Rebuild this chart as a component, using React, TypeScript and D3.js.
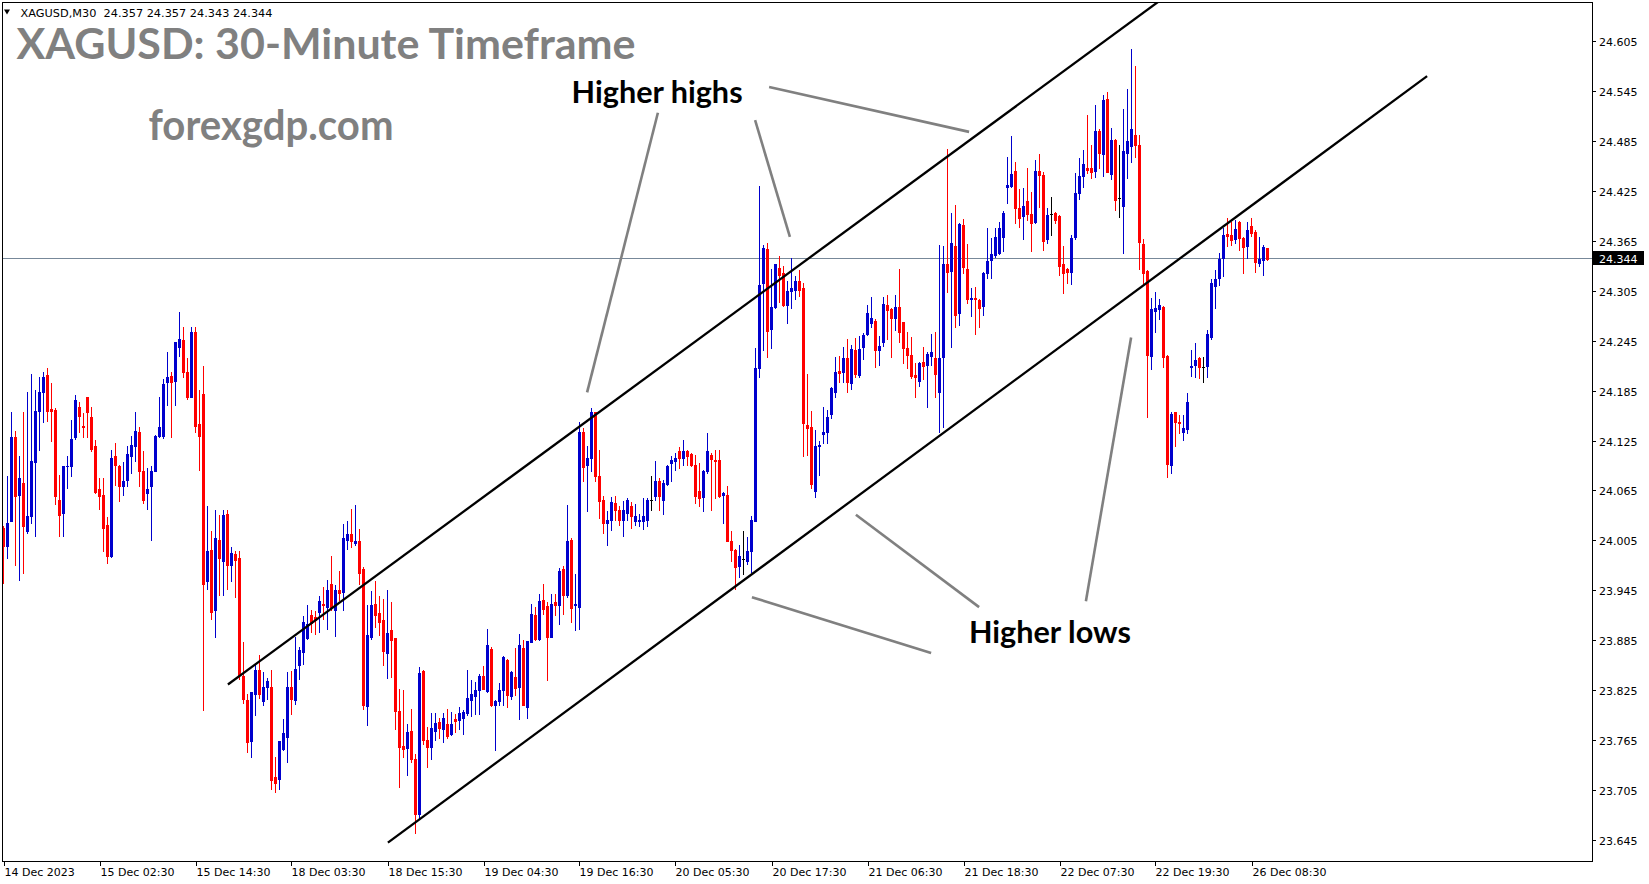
import React, { useEffect, useRef } from 'react';
import * as d3 from 'd3';

// XAGUSD M30 candles (bar 0 = 14 Dec 2023)
const opens = [
  24.021, 24.000, 24.030, 24.131, 24.061, 24.075, 24.018, 24.035, 24.100, 24.162,
  24.184, 24.205, 24.164, 24.163, 24.055, 24.039, 24.095, 24.095, 24.130, 24.166,
  24.144, 24.178, 24.155, 24.120, 24.068, 24.061, 24.025, 23.987, 24.108, 24.095,
  24.071, 24.079, 24.108, 24.119, 24.137, 24.089, 24.063, 24.071, 24.089, 24.132,
  24.132, 24.196, 24.204, 24.198, 24.239, 24.247, 24.209, 24.179, 24.257, 24.146,
  24.182, 23.957, 23.995, 23.922, 24.007, 23.981, 24.038, 23.977, 23.990, 23.985,
  23.843, 23.815, 23.765, 23.822, 23.851, 23.813, 23.830, 23.830, 23.722, 23.720,
  23.756, 23.770, 23.830, 23.815, 23.856, 23.872, 23.889, 23.916, 23.914, 23.920,
  23.930, 23.926, 23.954, 23.922, 23.946, 23.944, 24.007, 24.014, 24.003, 24.005,
  23.972, 23.807, 23.890, 23.930, 23.919, 23.910, 23.871, 23.898, 23.889, 23.801,
  23.759, 23.757, 23.777, 23.743, 23.677, 23.849, 23.766, 23.758, 23.777, 23.788,
  23.780, 23.785, 23.773, 23.791, 23.790, 23.793, 23.799, 23.815, 23.819, 23.827,
  23.843, 23.825, 23.876, 23.808, 23.813, 23.826, 23.863, 23.819, 23.842, 23.830,
  23.877, 23.806, 23.884, 23.916, 23.888, 23.934, 23.927, 23.890, 23.932, 23.928,
  23.972, 23.940, 24.007, 23.928, 23.926, 24.137, 24.097, 24.105, 24.161, 24.083,
  24.055, 24.027, 24.031, 24.051, 24.043, 24.031, 24.039, 24.047, 24.030, 24.029,
  24.030, 24.031, 24.055, 24.059, 24.077, 24.055, 24.074, 24.099, 24.101, 24.113,
  24.105, 24.113, 24.110, 24.097, 24.065, 24.058, 24.089, 24.109, 24.103, 24.103,
  24.061, 24.061, 24.005, 23.995, 23.975, 23.984, 23.982, 23.994, 24.029, 24.213,
  24.316, 24.356, 24.260, 24.287, 24.334, 24.327, 24.289, 24.306, 24.307, 24.318,
  24.309, 24.145, 24.143, 24.065, 24.119, 24.134, 24.137, 24.158, 24.184, 24.210,
  24.209, 24.225, 24.195, 24.235, 24.205, 24.239, 24.254, 24.267, 24.270, 24.235,
  24.245, 24.289, 24.284, 24.273, 24.287, 24.268, 24.237, 24.229, 24.205, 24.198,
  24.220, 24.217, 24.228, 24.225, 24.184, 24.227, 24.338, 24.330, 24.360, 24.279,
  24.385, 24.332, 24.296, 24.297, 24.295, 24.288, 24.327, 24.343, 24.349, 24.351,
  24.371, 24.431, 24.432, 24.450, 24.406, 24.396, 24.414, 24.398, 24.389, 24.450,
  24.445, 24.368, 24.398, 24.399, 24.396, 24.338, 24.332, 24.329, 24.371, 24.423,
  24.444, 24.454, 24.454, 24.450, 24.498, 24.470, 24.536, 24.447, 24.487, 24.417,
  24.408, 24.472, 24.480, 24.493, 24.481, 24.362, 24.330, 24.228, 24.282, 24.284,
  24.287, 24.228, 24.097, 24.160, 24.149, 24.137, 24.140, 24.214, 24.217, 24.225,
  24.214, 24.216, 24.251, 24.312, 24.322, 24.345, 24.374, 24.373, 24.368, 24.389,
  24.369, 24.360, 24.384, 24.377, 24.340, 24.343, 24.357,
];

const highs = [
  24.023, 24.083, 24.161, 24.138, 24.108, 24.161, 24.185, 24.206, 24.187, 24.203,
  24.209, 24.213, 24.195, 24.165, 24.085, 24.096, 24.107, 24.151, 24.181, 24.173,
  24.159, 24.178, 24.166, 24.127, 24.081, 24.081, 24.034, 24.115, 24.123, 24.097,
  24.100, 24.120, 24.132, 24.161, 24.143, 24.114, 24.093, 24.095, 24.133, 24.179,
  24.200, 24.233, 24.209, 24.244, 24.280, 24.262, 24.225, 24.263, 24.263, 24.187,
  24.216, 24.047, 24.018, 24.043, 24.037, 24.043, 24.043, 23.998, 23.993, 23.994,
  23.884, 23.822, 23.824, 23.856, 23.868, 23.848, 23.841, 23.850, 23.746, 23.765,
  23.791, 23.848, 23.849, 23.890, 23.878, 23.915, 23.928, 23.922, 23.921, 23.939,
  23.950, 23.958, 23.987, 23.952, 23.969, 24.026, 24.030, 24.044, 24.049, 24.020,
  23.974, 23.928, 23.945, 23.957, 23.939, 23.936, 23.947, 23.932, 23.889, 23.828,
  23.827, 23.785, 23.803, 23.749, 23.854, 23.850, 23.782, 23.799, 23.799, 23.793,
  23.799, 23.804, 23.800, 23.798, 23.806, 23.802, 23.851, 23.839, 23.836, 23.846,
  23.855, 23.900, 23.878, 23.815, 23.835, 23.867, 23.864, 23.849, 23.877, 23.894,
  23.886, 23.885, 23.930, 23.926, 23.942, 23.954, 23.932, 23.942, 23.942, 23.973,
  23.975, 24.049, 24.009, 23.966, 24.149, 24.141, 24.119, 24.165, 24.161, 24.115,
  24.059, 24.041, 24.058, 24.059, 24.048, 24.053, 24.057, 24.052, 24.050, 24.038,
  24.057, 24.057, 24.083, 24.102, 24.081, 24.079, 24.097, 24.108, 24.111, 24.118,
  24.127, 24.115, 24.111, 24.109, 24.099, 24.091, 24.135, 24.111, 24.115, 24.115,
  24.064, 24.071, 24.018, 23.996, 24.001, 24.018, 24.010, 24.035, 24.237, 24.432,
  24.361, 24.364, 24.332, 24.338, 24.348, 24.336, 24.318, 24.345, 24.324, 24.331,
  24.316, 24.206, 24.162, 24.139, 24.126, 24.166, 24.163, 24.191, 24.227, 24.228,
  24.238, 24.248, 24.241, 24.249, 24.252, 24.255, 24.289, 24.299, 24.272, 24.252,
  24.299, 24.301, 24.285, 24.301, 24.332, 24.269, 24.256, 24.250, 24.219, 24.221,
  24.238, 24.232, 24.254, 24.257, 24.361, 24.360, 24.476, 24.400, 24.409, 24.388,
  24.392, 24.362, 24.310, 24.311, 24.296, 24.329, 24.382, 24.370, 24.381, 24.389,
  24.402, 24.467, 24.492, 24.461, 24.428, 24.430, 24.454, 24.425, 24.463, 24.470,
  24.449, 24.405, 24.419, 24.401, 24.397, 24.360, 24.333, 24.373, 24.448, 24.466,
  24.475, 24.517, 24.481, 24.529, 24.500, 24.541, 24.545, 24.502, 24.488, 24.481,
  24.525, 24.548, 24.596, 24.576, 24.493, 24.368, 24.331, 24.297, 24.305, 24.296,
  24.288, 24.229, 24.160, 24.161, 24.157, 24.157, 24.183, 24.235, 24.243, 24.227,
  24.227, 24.259, 24.320, 24.331, 24.351, 24.381, 24.394, 24.389, 24.391, 24.390,
  24.371, 24.389, 24.394, 24.379, 24.371, 24.361, 24.357,
];

const lows = [
  23.955, 23.985, 24.029, 23.977, 23.959, 23.967, 24.015, 24.027, 24.011, 24.115,
  24.148, 24.150, 24.126, 24.050, 24.011, 24.011, 24.069, 24.083, 24.128, 24.137,
  24.131, 24.131, 24.113, 24.063, 24.044, 23.994, 23.979, 23.986, 24.073, 24.054,
  24.061, 24.071, 24.087, 24.102, 24.071, 24.051, 24.044, 24.007, 24.089, 24.131,
  24.129, 24.169, 24.131, 24.169, 24.228, 24.202, 24.176, 24.179, 24.136, 24.091,
  23.802, 23.948, 23.912, 23.890, 23.940, 23.940, 23.948, 23.957, 23.938, 23.840,
  23.811, 23.752, 23.746, 23.796, 23.817, 23.809, 23.816, 23.708, 23.704, 23.708,
  23.754, 23.740, 23.797, 23.810, 23.840, 23.858, 23.888, 23.896, 23.894, 23.896,
  23.912, 23.900, 23.922, 23.891, 23.934, 23.922, 23.996, 23.998, 24.001, 23.954,
  23.804, 23.784, 23.888, 23.902, 23.892, 23.856, 23.841, 23.842, 23.779, 23.710,
  23.746, 23.724, 23.740, 23.655, 23.671, 23.762, 23.734, 23.743, 23.766, 23.769,
  23.764, 23.769, 23.772, 23.776, 23.780, 23.774, 23.796, 23.795, 23.798, 23.798,
  23.828, 23.824, 23.807, 23.754, 23.808, 23.808, 23.806, 23.816, 23.820, 23.792,
  23.808, 23.793, 23.884, 23.886, 23.886, 23.918, 23.839, 23.890, 23.916, 23.906,
  23.918, 23.938, 23.908, 23.899, 23.900, 24.077, 24.042, 24.090, 24.077, 24.033,
  24.015, 24.001, 24.019, 24.031, 24.025, 24.012, 24.031, 24.021, 24.025, 24.023,
  24.020, 24.023, 24.043, 24.055, 24.043, 24.038, 24.073, 24.078, 24.091, 24.093,
  24.097, 24.097, 24.095, 24.051, 24.048, 24.042, 24.087, 24.043, 24.057, 24.058,
  24.027, 24.005, 23.982, 23.948, 23.962, 23.966, 23.978, 23.968, 24.029, 24.202,
  24.235, 24.226, 24.237, 24.285, 24.293, 24.288, 24.267, 24.285, 24.296, 24.300,
  24.107, 24.109, 24.069, 24.058, 24.085, 24.123, 24.123, 24.153, 24.178, 24.197,
  24.196, 24.184, 24.188, 24.203, 24.203, 24.224, 24.253, 24.263, 24.215, 24.217,
  24.240, 24.248, 24.226, 24.259, 24.244, 24.219, 24.213, 24.201, 24.178, 24.192,
  24.200, 24.166, 24.217, 24.178, 24.137, 24.143, 24.305, 24.239, 24.262, 24.265,
  24.327, 24.292, 24.276, 24.254, 24.262, 24.277, 24.321, 24.322, 24.347, 24.350,
  24.354, 24.412, 24.431, 24.387, 24.383, 24.368, 24.391, 24.354, 24.388, 24.407,
  24.355, 24.364, 24.373, 24.388, 24.325, 24.304, 24.315, 24.314, 24.368, 24.416,
  24.431, 24.448, 24.441, 24.443, 24.454, 24.444, 24.449, 24.440, 24.403, 24.395,
  24.351, 24.442, 24.461, 24.467, 24.332, 24.315, 24.155, 24.212, 24.257, 24.272,
  24.215, 24.082, 24.087, 24.119, 24.135, 24.127, 24.135, 24.204, 24.202, 24.201,
  24.197, 24.202, 24.248, 24.285, 24.313, 24.324, 24.360, 24.361, 24.364, 24.355,
  24.328, 24.345, 24.372, 24.329, 24.336, 24.325, 24.343,
];

const closes = [
  24.000, 24.027, 24.130, 24.059, 24.081, 24.023, 24.035, 24.101, 24.162, 24.184,
  24.203, 24.162, 24.162, 24.059, 24.037, 24.095, 24.096, 24.128, 24.175, 24.156,
  24.142, 24.160, 24.116, 24.064, 24.059, 24.021, 23.987, 24.105, 24.097, 24.071,
  24.077, 24.110, 24.121, 24.138, 24.089, 24.055, 24.068, 24.089, 24.132, 24.142,
  24.194, 24.202, 24.197, 24.244, 24.248, 24.208, 24.178, 24.256, 24.144, 24.132,
  23.954, 23.994, 23.920, 24.009, 23.985, 24.037, 23.977, 23.991, 23.983, 23.845,
  23.816, 23.764, 23.824, 23.850, 23.822, 23.830, 23.837, 23.718, 23.715, 23.765,
  23.775, 23.830, 23.816, 23.852, 23.874, 23.908, 23.906, 23.907, 23.910, 23.933,
  23.928, 23.947, 23.926, 23.946, 23.943, 24.009, 24.014, 24.006, 24.006, 23.967,
  23.808, 23.892, 23.928, 23.916, 23.908, 23.873, 23.895, 23.887, 23.801, 23.758,
  23.755, 23.776, 23.743, 23.678, 23.847, 23.766, 23.758, 23.781, 23.787, 23.781,
  23.793, 23.771, 23.786, 23.789, 23.799, 23.800, 23.817, 23.822, 23.827, 23.843,
  23.828, 23.880, 23.809, 23.813, 23.826, 23.866, 23.820, 23.848, 23.829, 23.881,
  23.808, 23.885, 23.918, 23.888, 23.933, 23.924, 23.890, 23.930, 23.928, 23.970,
  23.940, 24.005, 23.925, 23.930, 24.136, 24.094, 24.105, 24.161, 24.083, 24.053,
  24.027, 24.031, 24.052, 24.043, 24.031, 24.043, 24.055, 24.035, 24.036, 24.031,
  24.035, 24.055, 24.055, 24.078, 24.059, 24.075, 24.095, 24.103, 24.105, 24.105,
  24.113, 24.107, 24.097, 24.059, 24.057, 24.089, 24.113, 24.104, 24.101, 24.059,
  24.063, 24.006, 23.995, 23.974, 23.988, 23.984, 23.994, 24.031, 24.213, 24.313,
  24.357, 24.258, 24.287, 24.338, 24.325, 24.289, 24.306, 24.309, 24.318, 24.307,
  24.147, 24.141, 24.074, 24.120, 24.121, 24.137, 24.155, 24.189, 24.209, 24.207,
  24.225, 24.196, 24.236, 24.206, 24.236, 24.253, 24.279, 24.273, 24.235, 24.240,
  24.290, 24.283, 24.273, 24.287, 24.256, 24.237, 24.229, 24.204, 24.202, 24.219,
  24.216, 24.230, 24.232, 24.206, 24.225, 24.338, 24.329, 24.363, 24.277, 24.386,
  24.335, 24.296, 24.297, 24.296, 24.286, 24.327, 24.342, 24.350, 24.371, 24.382,
  24.400, 24.433, 24.446, 24.405, 24.394, 24.408, 24.398, 24.387, 24.450, 24.445,
  24.366, 24.397, 24.398, 24.391, 24.336, 24.327, 24.329, 24.369, 24.423, 24.444,
  24.458, 24.451, 24.449, 24.498, 24.472, 24.535, 24.449, 24.487, 24.415, 24.417,
  24.474, 24.486, 24.500, 24.481, 24.365, 24.327, 24.229, 24.284, 24.285, 24.289,
  24.227, 24.098, 24.158, 24.149, 24.147, 24.141, 24.172, 24.216, 24.223, 24.214,
  24.214, 24.254, 24.316, 24.320, 24.344, 24.373, 24.372, 24.367, 24.380, 24.369,
  24.359, 24.379, 24.376, 24.341, 24.344, 24.359, 24.344,
];

// one label every 24 bars
const timeLabels = [
  '14 Dec 2023', '15 Dec 02:30', '15 Dec 14:30', '18 Dec 03:30', '18 Dec 15:30',
  '19 Dec 04:30', '19 Dec 16:30', '20 Dec 05:30', '20 Dec 17:30', '21 Dec 06:30',
  '21 Dec 18:30', '22 Dec 07:30', '22 Dec 19:30', '26 Dec 08:30',
];

const priceTicks = [
  24.605, 24.545, 24.485, 24.425, 24.365, 24.305, 24.245, 24.185, 24.125,
  24.065, 24.005, 23.945, 23.885, 23.825, 23.765, 23.705, 23.645,
];

const lastPrice = 24.344;

// channel lines [bar, price]
const upperChannel = [[56.1, 23.833], [288.6, 24.653]];
const lowerChannel = [[96.1, 23.643], [355.9, 24.564]];

// grey pointer lines [bar, price, bar, price]
const pointers = [
  [163.6, 24.520, 145.9, 24.184],
  [187.9, 24.511, 196.6, 24.371],
  [191.4, 24.551, 241.4, 24.497],
  [213.1, 24.037, 243.9, 23.926],
  [187.1, 23.938, 231.9, 23.871],
  [281.9, 24.250, 270.6, 23.933],
];

const W = 1649;
const H = 884;
const BULL = '#0000CD';
const BEAR = '#FF0000';

const App: React.FC = () => {
  const ref = useRef<SVGSVGElement | null>(null);

  useEffect(() => {
    if (!ref.current) return;
    const svg = d3.select(ref.current);
    svg.selectAll('*').remove();

    const left = 2, top = 2, right = 1592, bottom = 861;

    const x = d3.scaleLinear().domain([0, opens.length - 1]).range([3.5, 3.5 + 4 * (opens.length - 1)]);
    const y = d3.scaleLinear().domain([23.645, 24.605]).range([841, 42]);

    svg.append('rect').attr('width', W).attr('height', H).attr('fill', '#fff');

    svg.append('defs').append('clipPath').attr('id', 'plot')
      .append('rect').attr('x', left + 1).attr('y', top + 1)
      .attr('width', right - left - 1).attr('height', bottom - top - 1);

    const plot = svg.append('g').attr('clip-path', 'url(#plot)');

    // bid line
    const ly = Math.round(y(lastPrice)) - 0.5;
    plot.append('line')
      .attr('x1', left).attr('x2', right).attr('y1', ly).attr('y2', ly)
      .attr('stroke', '#778899').attr('stroke-width', 1);

    // candles
    const data = opens.map((o, i) => ({ i, o, h: highs[i], l: lows[i], c: closes[i] }));
    const candles = plot.append('g').attr('shape-rendering', 'crispEdges');
    data.forEach((d) => {
      const col = d.c > d.o ? BULL : d.c < d.o ? BEAR : '#000';
      const cx = x(d.i);
      const hi = Math.max(d.h, d.o, d.c);
      const lo = Math.min(d.l, d.o, d.c);
      const yh = Math.round(y(hi));
      const yl = Math.round(y(lo));
      candles.append('rect')
        .attr('x', cx - 0.5).attr('width', 1)
        .attr('y', yh).attr('height', Math.max(1, yl - yh + 1))
        .attr('fill', col);
      const bt = Math.round(y(Math.max(d.o, d.c)));
      const bb = Math.round(y(Math.min(d.o, d.c)));
      candles.append('rect')
        .attr('x', cx - 1.5).attr('width', 3)
        .attr('y', bt).attr('height', Math.max(1, bb - bt + 1))
        .attr('fill', col);
    });

    // channel
    const line = d3.line<number[]>().x((p) => x(p[0])).y((p) => y(p[1]));
    [upperChannel, lowerChannel].forEach((ch) => {
      plot.append('path').attr('d', line(ch as number[][]))
        .attr('fill', 'none').attr('stroke', '#000').attr('stroke-width', 2.3);
    });

    // pointers
    pointers.forEach((p) => {
      plot.append('line')
        .attr('x1', x(p[0])).attr('y1', y(p[1]))
        .attr('x2', x(p[2])).attr('y2', y(p[3]))
        .attr('stroke', '#808080').attr('stroke-width', 2.6);
    });

    // frame
    svg.append('rect')
      .attr('x', left + 0.5).attr('y', top + 0.5)
      .attr('width', right - left).attr('height', bottom - top)
      .attr('fill', 'none').attr('stroke', '#000').attr('stroke-width', 1)
      .attr('shape-rendering', 'crispEdges');

    const axisFont = '"DejaVu Sans", sans-serif';

    // price axis
    const pa = svg.append('g').attr('font-family', axisFont).attr('font-size', 11).attr('fill', '#000');
    priceTicks.forEach((p) => {
      const ty = Math.round(y(p)) - 0.5;
      pa.append('line').attr('x1', right).attr('x2', right + 4).attr('y1', ty).attr('y2', ty)
        .attr('stroke', '#000').attr('shape-rendering', 'crispEdges');
      pa.append('text').attr('x', right + 7).attr('y', ty + 4).text(d3.format('.3f')(p));
    });
    pa.append('rect').attr('x', right + 1).attr('y', ly - 7.5).attr('width', 51).attr('height', 14).attr('fill', '#000');
    pa.append('text').attr('x', right + 7).attr('y', ly + 4).attr('fill', '#fff').text(d3.format('.3f')(lastPrice));

    // time axis
    const ta = svg.append('g').attr('font-family', axisFont).attr('font-size', 11).attr('fill', '#000');
    timeLabels.forEach((t, k) => {
      const tx = Math.round(x(k * 24)) + 0.5;
      ta.append('line').attr('x1', tx).attr('x2', tx).attr('y1', bottom).attr('y2', bottom + 5)
        .attr('stroke', '#000').attr('shape-rendering', 'crispEdges');
      ta.append('text').attr('x', tx).attr('y', bottom + 15).text(t);
    });

    // header
    svg.append('path').attr('d', 'M4,9.5 L10,9.5 L7,14.5 Z').attr('fill', '#000');
    svg.append('text').attr('x', 20.5).attr('y', 16.5)
      .attr('font-family', axisFont).attr('font-size', 11.3).attr('fill', '#000')
      .style('white-space', 'pre')
      .text(`XAGUSD,M30  ${[opens[opens.length - 1], highs[highs.length - 1], lows[lows.length - 1], closes[closes.length - 1]].map(d3.format('.3f')).join(' ')}`);

    const bold = 'Lato, "Open Sans", sans-serif';
    svg.append('text').attr('x', 16.5).attr('y', 58.5)
      .attr('font-family', bold).attr('font-weight', 700).attr('font-size', 42)
      .attr('fill', '#808080').attr('textLength', 619).attr('lengthAdjust', 'spacingAndGlyphs')
      .text('XAGUSD: 30-Minute Timeframe');
    svg.append('text').attr('x', 148.5).attr('y', 139.5)
      .attr('font-family', bold).attr('font-weight', 700).attr('font-size', 42)
      .attr('fill', '#808080').attr('textLength', 245).attr('lengthAdjust', 'spacingAndGlyphs')
      .text('forexgdp.com');

    svg.append('text').attr('x', x(163.4)).attr('y', y(24.532))
      .attr('text-anchor', 'middle')
      .attr('font-family', bold).attr('font-weight', 700).attr('font-size', 30)
      .attr('fill', '#000').attr('textLength', 171).attr('lengthAdjust', 'spacingAndGlyphs')
      .text('Higher highs');
    svg.append('text').attr('x', x(261.6)).attr('y', y(23.883))
      .attr('text-anchor', 'middle')
      .attr('font-family', bold).attr('font-weight', 700).attr('font-size', 30)
      .attr('fill', '#000').attr('textLength', 162).attr('lengthAdjust', 'spacingAndGlyphs')
      .text('Higher lows');
  }, []);

  return (
    <div style={{ position: 'absolute', left: 0, top: 0 }}>
      <svg ref={ref} width={W} height={H} style={{ display: 'block' }}></svg>
    </div>
  );
};

export default App;
